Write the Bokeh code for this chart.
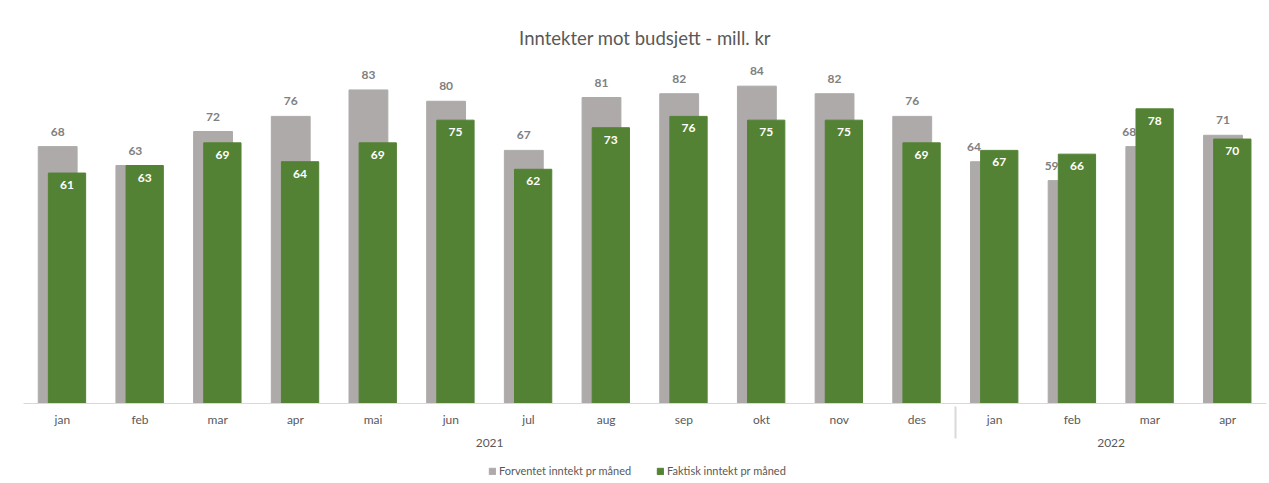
from bokeh.plotting import figure
from bokeh.layouts import column
from bokeh.models import FactorRange, ColumnDataSource, Legend, LegendItem
from bokeh.transform import dodge
from bokeh.core.properties import value
from bokeh.embed import file_html
from bokeh.resources import INLINE

title = "Inntekter mot budsjett - mill. kr"
years = ["2021"] * 12 + ["2022"] * 4
months = ["jan", "feb", "mar", "apr", "mai", "jun", "jul", "aug", "sep", "okt", "nov", "des",
          "jan", "feb", "mar", "apr"]
forventet = [68, 63, 72, 76, 83, 80, 67, 81, 82, 84, 82, 76, 64, 59, 68, 71]
faktisk = [61, 63, 69, 64, 69, 75, 62, 73, 76, 75, 75, 69, 67, 66, 78, 70]
series_names = ["Forventet inntekt pr måned", "Faktisk inntekt pr måned"]

GREY = "#AEAAAA"
GREEN = "#548235"
TXT = "#595959"
FONT = "Lato"

# trailing newline gives the month row a little extra height (pushes the year row down)
factors = [(y, m + "\n") for y, m in zip(years, months)]
src = ColumnDataSource(dict(
    x=factors,
    fo=forventet,
    fa=faktisk,
    fo_lbl=[str(v) for v in forventet],
    fa_lbl=[str(v) for v in faktisk],
    fo_xoff=[-16 if b > a else 0 for a, b in zip(forventet, faktisk)],
))

x_range = FactorRange(*factors, factor_padding=0, group_padding=0, range_padding=0)

p = figure(frame_width=1243, frame_height=340, x_range=x_range, y_range=(0, 90),
           output_backend="svg", toolbar_location=None,
           min_border_left=23, min_border_right=3, min_border_top=63, min_border_bottom=55)

r1 = p.vbar(x=dodge("x", -0.06, range=p.x_range), top="fo", width=0.5, source=src,
            fill_color=GREY, line_color=GREY)
r2 = p.vbar(x=dodge("x", 0.06, range=p.x_range), top="fa", width=0.48, source=src,
            fill_color=GREEN, line_color=GREEN)

p.text(x=dodge("x", -0.06, range=p.x_range), y="fo", text="fo_lbl", source=src,
       x_offset="fo_xoff", y_offset=-11, text_align="center", text_baseline="bottom",
       text_font=value(FONT), text_font_size="12px", text_font_style="bold",
       text_color="#808080")
p.text(x=dodge("x", 0.06, range=p.x_range), y="fa", text="fa_lbl", source=src,
       y_offset=8, text_align="center", text_baseline="top",
       text_font=value(FONT), text_font_size="12px", text_font_style="bold",
       text_color="white")

p.title.text = title
p.title.align = "center"
p.title.text_font = FONT
p.title.text_font_size = "18.5px"
p.title.text_font_style = "normal"
p.title.text_color = TXT
p.title.standoff = 30

p.yaxis.visible = False
p.xgrid.visible = False
p.ygrid.visible = False
p.outline_line_color = None

ax = p.xaxis[0]
ax.axis_line_color = "#D9D9D9"
ax.major_tick_line_color = None
ax.minor_tick_line_color = None
ax.major_label_text_font = FONT
ax.major_label_text_font_size = "12px"
ax.major_label_text_color = TXT
ax.major_label_text_line_height = 0.5
ax.major_label_standoff = 2
ax.group_text_font = FONT
ax.group_text_font_size = "12px"
ax.group_text_color = TXT
ax.group_text_font_style = "normal"
ax.separator_line_color = "#D9D9D9"

# legend strip below the chart
lf = figure(width=1269, height=25, x_range=(1000, 2000), y_range=(1000, 2000),
            output_backend="svg", toolbar_location=None, min_border=0)
lf.axis.visible = False
lf.grid.visible = False
lf.outline_line_color = None
# legend-only renderers: same data, lying outside this strip's visible range
d1 = lf.vbar(x="fo", top="fo", width=0.5, source=src, fill_color=GREY, line_color=GREY)
d2 = lf.vbar(x="fa", top="fa", width=0.5, source=src, fill_color=GREEN, line_color=GREEN)
legend = Legend(items=[LegendItem(label=series_names[0], renderers=[d1]),
                       LegendItem(label=series_names[1], renderers=[d2])],
                orientation="horizontal", location=(465, 6),
                border_line_alpha=0, background_fill_alpha=0,
                label_text_font=FONT, label_text_font_size="11px", label_text_color=TXT,
                label_height=12, glyph_width=8, glyph_height=8, spacing=25,
                padding=0, margin=0, label_standoff=3)
lf.add_layout(legend, "center")

layout = column(p, lf, spacing=0)
open("out.html", "w").write(file_html(layout, INLINE))
